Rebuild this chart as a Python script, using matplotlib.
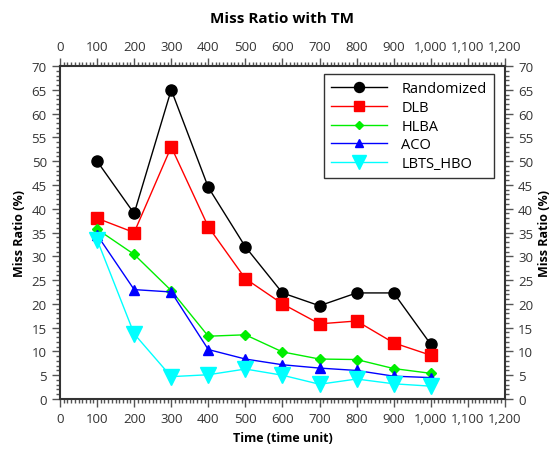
import matplotlib
matplotlib.use("Agg")
import matplotlib.pyplot as plt
from matplotlib.ticker import MultipleLocator, FuncFormatter

plt.rcParams['font.family'] = ['Open Sans', 'DejaVu Sans']

time_units = [100, 200, 300, 400, 500, 600, 700, 800, 900, 1000]
randomized = [50, 39, 65, 44.5, 32, 22.3, 19.6, 22.3, 22.3, 11.5]
dlb = [38, 35, 53, 36.2, 25.3, 20, 15.8, 16.4, 11.8, 9.2]
hlba = [35.7, 30.4, 22.8, 13.2, 13.5, 9.9, 8.4, 8.3, 6.4, 5.4]
aco = [34.5, 23, 22.5, 10.4, 8.4, 7.2, 6.5, 6.0, 4.8, 4.5]
lbts_hbo = [33.5, 13.7, 4.7, 5.1, 6.3, 5.0, 3.1, 4.2, 3.2, 2.7]

fig = plt.figure(figsize=(5.53, 4.56), dpi=100)
ax = fig.add_axes([0.1085, 0.1228, 0.8045, 0.7302])

ax.plot(time_units, randomized, color='black', lw=1, marker='o', markersize=8, label='Randomized')
ax.plot(time_units, dlb, color='red', lw=1, marker='s', markersize=8, label='DLB')
ax.plot(time_units, hlba, color='#00ee00', lw=1, marker='D', markersize=5, label='HLBA')
ax.plot(time_units, aco, color='blue', lw=1, marker='^', markersize=7, label='ACO')
ax.plot(time_units, lbts_hbo, color='cyan', lw=1, marker='v', markersize=11, label='LBTS_HBO')

ax.set_xlim(0, 1200)
ax.set_ylim(0, 70)
ax.xaxis.set_major_locator(MultipleLocator(100))
ax.xaxis.set_minor_locator(MultipleLocator(10))
ax.yaxis.set_major_locator(MultipleLocator(5))
ax.yaxis.set_minor_locator(MultipleLocator(1))
ax.xaxis.set_major_formatter(FuncFormatter(lambda v, p: '{:,}'.format(int(v))))

ax.tick_params(which='both', direction='out', top=True, right=True,
               labeltop=True, labelright=True, colors='#333333', labelsize=9.5)
ax.tick_params(which='major', length=6, width=1, color='#555555')
ax.tick_params(which='minor', length=3, width=1, color='#555555')
for s in ax.spines.values():
    s.set_linewidth(1.5)
    s.set_color('#333333')

ax.set_xlabel('Time (time unit)', fontweight='bold', fontsize=9)
ax.set_ylabel('Miss Ratio (%)', fontweight='bold', fontsize=9)
ax2 = ax.secondary_yaxis('right')
ax2.set_yticks([])
ax2.spines['right'].set_visible(False)
ax2.set_ylabel('Miss Ratio (%)', fontweight='bold', fontsize=9, labelpad=24)
ax.set_title('Miss Ratio with TM', fontweight='bold', fontsize=11, pad=32)

leg = ax.legend(loc='upper right', bbox_to_anchor=(0.975, 0.976), borderaxespad=0,
                fancybox=False, edgecolor='black', fontsize=10.5, handlelength=3.8,
                handletextpad=1.0, borderpad=0.5, labelspacing=0.25, markerscale=0.9)
leg.get_frame().set_linewidth(1)

fig.savefig('out.png', dpi=100)
